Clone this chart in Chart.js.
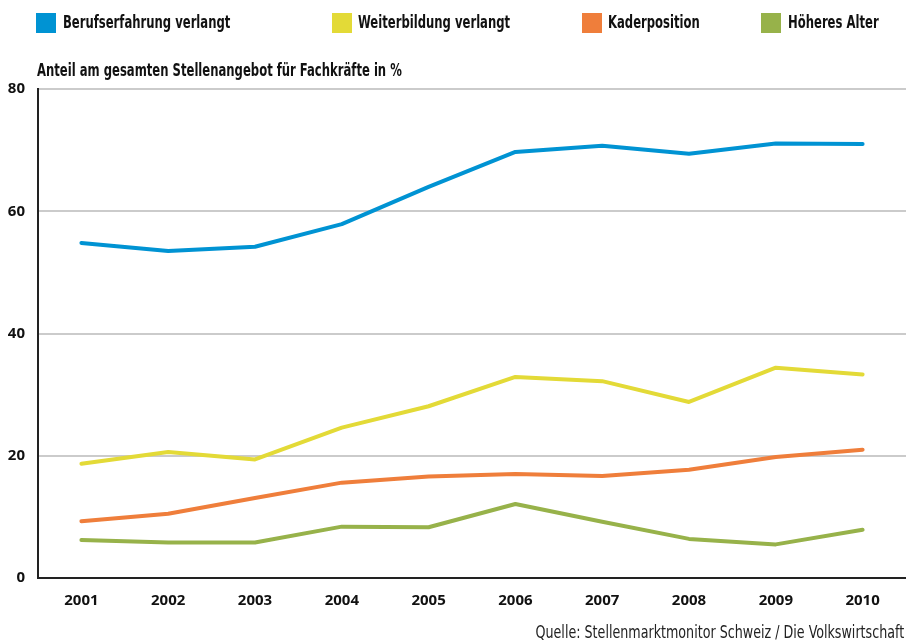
<!DOCTYPE html>
<html lang="de">
<head>
<meta charset="utf-8">
<title>Stellenangebot für Fachkräfte</title>
<script src="https://cdn.jsdelivr.net/npm/chart.js@4.4.1/dist/chart.umd.min.js"></script>
<style>
  html, body { margin: 0; padding: 0; background: #fff; }
  #wrap { position: relative; width: 906px; height: 644px; overflow: hidden; }
  #chart { position: absolute; left: 0; top: 0; }
  .narrow { font-family: "Liberation Sans Narrow", "DejaVu Sans Condensed", "Noto Sans", sans-serif; font-stretch: condensed; color: #111; }
  .box { position: absolute; top: 13px; width: 20px; height: 20px; }
  .lbl { position: absolute; top: 11px; font-size: 17px; font-weight: bold; line-height: 22px; white-space: nowrap; transform: scaleX(0.76); transform-origin: left center; }
  #title { position: absolute; left: 37px; top: 59px; font-size: 17px; font-weight: bold; line-height: 22px; white-space: nowrap; transform: scaleX(0.76); transform-origin: left center; }
  #source { position: absolute; right: 2px; top: 621px; font-size: 17px; line-height: 22px; white-space: nowrap; color: #222; transform: scaleX(0.83); transform-origin: right center; }
</style>
</head>
<body>
<div id="wrap">
  <canvas id="chart" width="906" height="644"></canvas>
  <div id="legend"></div>
  <div id="title" class="narrow">Anteil am gesamten Stellenangebot für Fachkräfte in %</div>
  <div id="source" class="narrow">Quelle: Stellenmarktmonitor Schweiz / Die Volkswirtschaft</div>
</div>
<script>
// DATA
const years = ["2001", "2002", "2003", "2004", "2005", "2006", "2007", "2008", "2009", "2010"];
const berufserfahrung = [54.8, 53.5, 54.2, 57.9, 64.0, 69.7, 70.7, 69.4, 71.1, 71.0];
const weiterbildung = [18.7, 20.6, 19.4, 24.6, 28.1, 32.9, 32.2, 28.8, 34.4, 33.3];
const kaderposition = [9.3, 10.5, 13.1, 15.6, 16.6, 17.0, 16.7, 17.7, 19.8, 21.0];
const hoeheresAlter = [6.2, 5.8, 5.8, 8.4, 8.3, 12.1, 9.2, 6.4, 5.5, 7.9];
const seriesNames = ["Berufserfahrung verlangt", "Weiterbildung verlangt", "Kaderposition", "Höheres Alter"];
const yTicks = [0, 20, 40, 60, 80];

// STYLE
const colors = ["#0093d3", "#e3da37", "#ef7e3b", "#97b24a"];
const legendBoxX = [36, 332, 582, 761];
const legendTextX = [63, 358, 608, 788];

// LEGEND (html)
const legend = document.querySelector("#legend");
seriesNames.forEach((name, i) => {
    const box = document.createElement("div");
    box.className = "box";
    box.style.left = legendBoxX[i] + "px";
    box.style.background = colors[i];
    legend.appendChild(box);

    const lbl = document.createElement("div");
    lbl.className = "lbl narrow";
    lbl.style.left = legendTextX[i] + "px";
    lbl.textContent = name;
    legend.appendChild(lbl);
});

// CHART
const seriesData = [berufserfahrung, weiterbildung, kaderposition, hoeheresAlter];
const tickFont = { family: "'Open Sans', 'DejaVu Sans', sans-serif", size: 15, weight: "bold" };

new Chart(document.getElementById("chart"), {
    type: "line",
    data: {
        labels: years,
        datasets: seriesData.map((d, i) => ({
            label: seriesNames[i],
            data: d,
            borderColor: colors[i],
            backgroundColor: colors[i],
            borderWidth: 4,
            pointRadius: 0,
            tension: 0,
            borderCapStyle: "round",
            borderJoinStyle: "round"
        }))
    },
    options: {
        responsive: false,
        animation: false,
        devicePixelRatio: 1,
        layout: { padding: { top: 89, left: 0, right: 0, bottom: 0 } },
        plugins: {
            legend: { display: false },
            tooltip: { enabled: false }
        },
        scales: {
            x: {
                offset: true,
                grid: { display: false, drawTicks: false },
                border: { color: "#222", width: 2 },
                ticks: { color: "#111", font: tickFont, padding: 14, maxRotation: 0 },
                afterFit: scale => { scale.height = 66; }
            },
            y: {
                min: 0,
                max: 80,
                afterBuildTicks: scale => { scale.ticks = yTicks.map(v => ({ value: v })); },
                grid: {
                    drawTicks: false,
                    lineWidth: 2,
                    color: ctx => ctx.tick && ctx.tick.value === 0 ? "rgba(0,0,0,0)" : "#cbcbcb"
                },
                border: { color: "#222", width: 2 },
                ticks: { color: "#111", font: tickFont, padding: 13 },
                afterFit: scale => { scale.width = 38; }
            }
        }
    }
});
</script>
</body>
</html>
